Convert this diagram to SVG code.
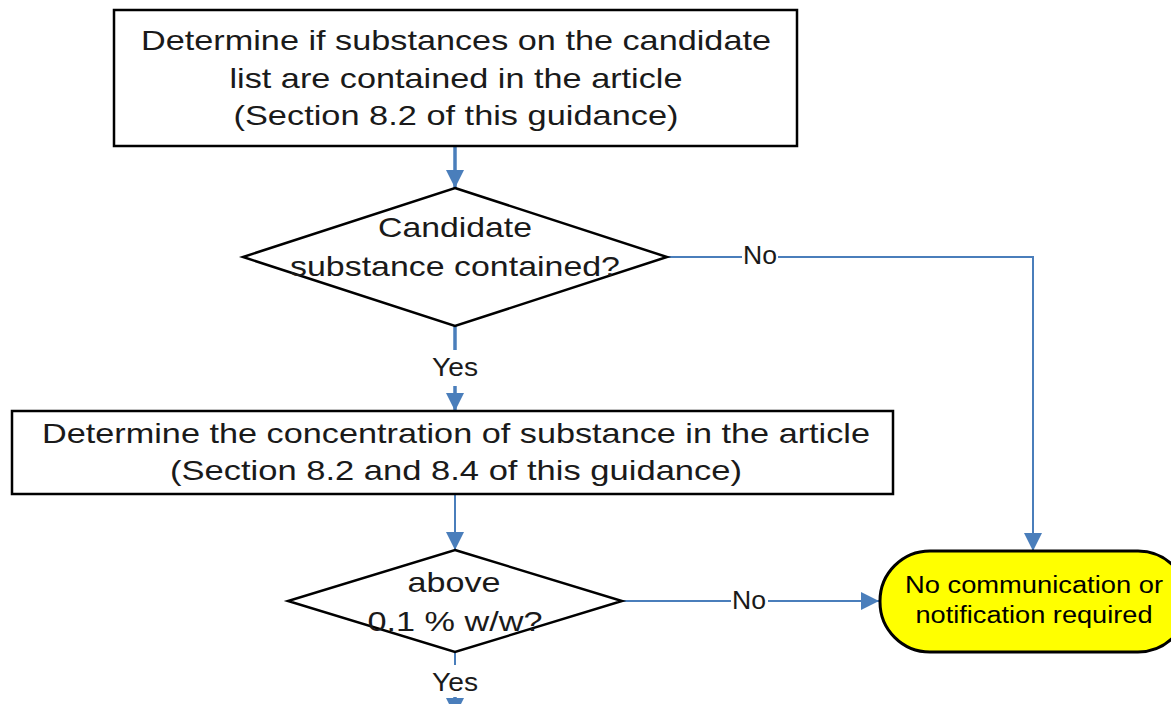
<svg xmlns="http://www.w3.org/2000/svg" width="1171" height="704" viewBox="0 0 1171 704">
<style>
.box{fill:#fff;stroke:#000;stroke-width:2.5}
.t{font-family:"Liberation Sans",Arial,sans-serif;fill:#1a1a1a;text-anchor:middle}
.big{font-size:28px}
.lbl{font-size:25px}
.term{font-size:23px;fill:#000}
.c{fill:none;stroke:#4a7ebb;stroke-width:2}
.ct{fill:none;stroke:#4a7ebb;stroke-width:3.5}
</style>
<defs>
<marker id="ah" viewBox="0 0 18 18" refX="18" refY="9" markerWidth="18" markerHeight="18" orient="auto" markerUnits="userSpaceOnUse">
<path d="M0,0 L18,9 L0,18 Z" fill="#4a7ebb"/>
</marker>
</defs>
<g id="connectors">
<line class="ct" x1="455" y1="147" x2="455" y2="188" marker-end="url(#ah)"/>
<polyline class="c" points="667,257 742,257"/>
<polyline class="c" points="778,257 1033,257 1033,551" marker-end="url(#ah)"/>
<line class="ct" x1="455" y1="326" x2="455" y2="350"/>
<line class="ct" x1="455" y1="386" x2="455" y2="411" marker-end="url(#ah)"/>
<line class="c" x1="455" y1="494" x2="455" y2="550" marker-end="url(#ah)"/>
<line class="c" x1="622" y1="601" x2="731" y2="601"/>
<line class="c" x1="768" y1="601" x2="879" y2="601" marker-end="url(#ah)"/>
<line class="c" x1="455" y1="652" x2="455" y2="665"/>
<line class="ct" x1="455" y1="697" x2="455" y2="716" marker-end="url(#ah)"/>
<text class="t lbl" x="760" y="264" textLength="34" lengthAdjust="spacingAndGlyphs">No</text>
<text class="t lbl" x="455" y="376" textLength="46" lengthAdjust="spacingAndGlyphs">Yes</text>
<text class="t lbl" x="749" y="609" textLength="34" lengthAdjust="spacingAndGlyphs">No</text>
<text class="t lbl" x="455" y="691" textLength="46" lengthAdjust="spacingAndGlyphs">Yes</text>
</g>
<g id="node1">
<rect class="box" x="114" y="10" width="683" height="136"/>
<text class="t big" x="456" y="50" textLength="630" lengthAdjust="spacingAndGlyphs">Determine if substances on the candidate</text>
<text class="t big" x="456" y="88" textLength="453" lengthAdjust="spacingAndGlyphs">list are contained in the article</text>
<text class="t big" x="456" y="125" textLength="445" lengthAdjust="spacingAndGlyphs">(Section 8.2 of this guidance)</text>
</g>
<g id="node2">
<polygon class="box" points="455,188 667,257 455,326 243,257"/>
<text class="t big" x="455" y="237" textLength="154" lengthAdjust="spacingAndGlyphs">Candidate</text>
<text class="t big" x="455" y="276" textLength="330" lengthAdjust="spacingAndGlyphs">substance contained?</text>
</g>
<g id="node3">
<rect class="box" x="12" y="411" width="881" height="83"/>
<text class="t big" x="456" y="443" textLength="828" lengthAdjust="spacingAndGlyphs">Determine the concentration of substance in the article</text>
<text class="t big" x="456" y="480" textLength="572" lengthAdjust="spacingAndGlyphs">(Section 8.2 and 8.4 of this guidance)</text>
</g>
<g id="node4">
<polygon class="box" points="455,550 622,601 455,652 288,601"/>
<text class="t big" x="454" y="592" textLength="93" lengthAdjust="spacingAndGlyphs">above</text>
<text class="t big" x="455" y="631" textLength="175" lengthAdjust="spacingAndGlyphs">0.1 % w/w?</text>
</g>
<g id="node5">
<rect x="880" y="551" width="308" height="101" rx="50" ry="50" fill="#ffff00" stroke="#000" stroke-width="3"/>
<text class="t term" x="1034" y="593" textLength="258" lengthAdjust="spacingAndGlyphs">No communication or</text>
<text class="t term" x="1034" y="623" textLength="237" lengthAdjust="spacingAndGlyphs">notification required</text>
</g>
</svg>
